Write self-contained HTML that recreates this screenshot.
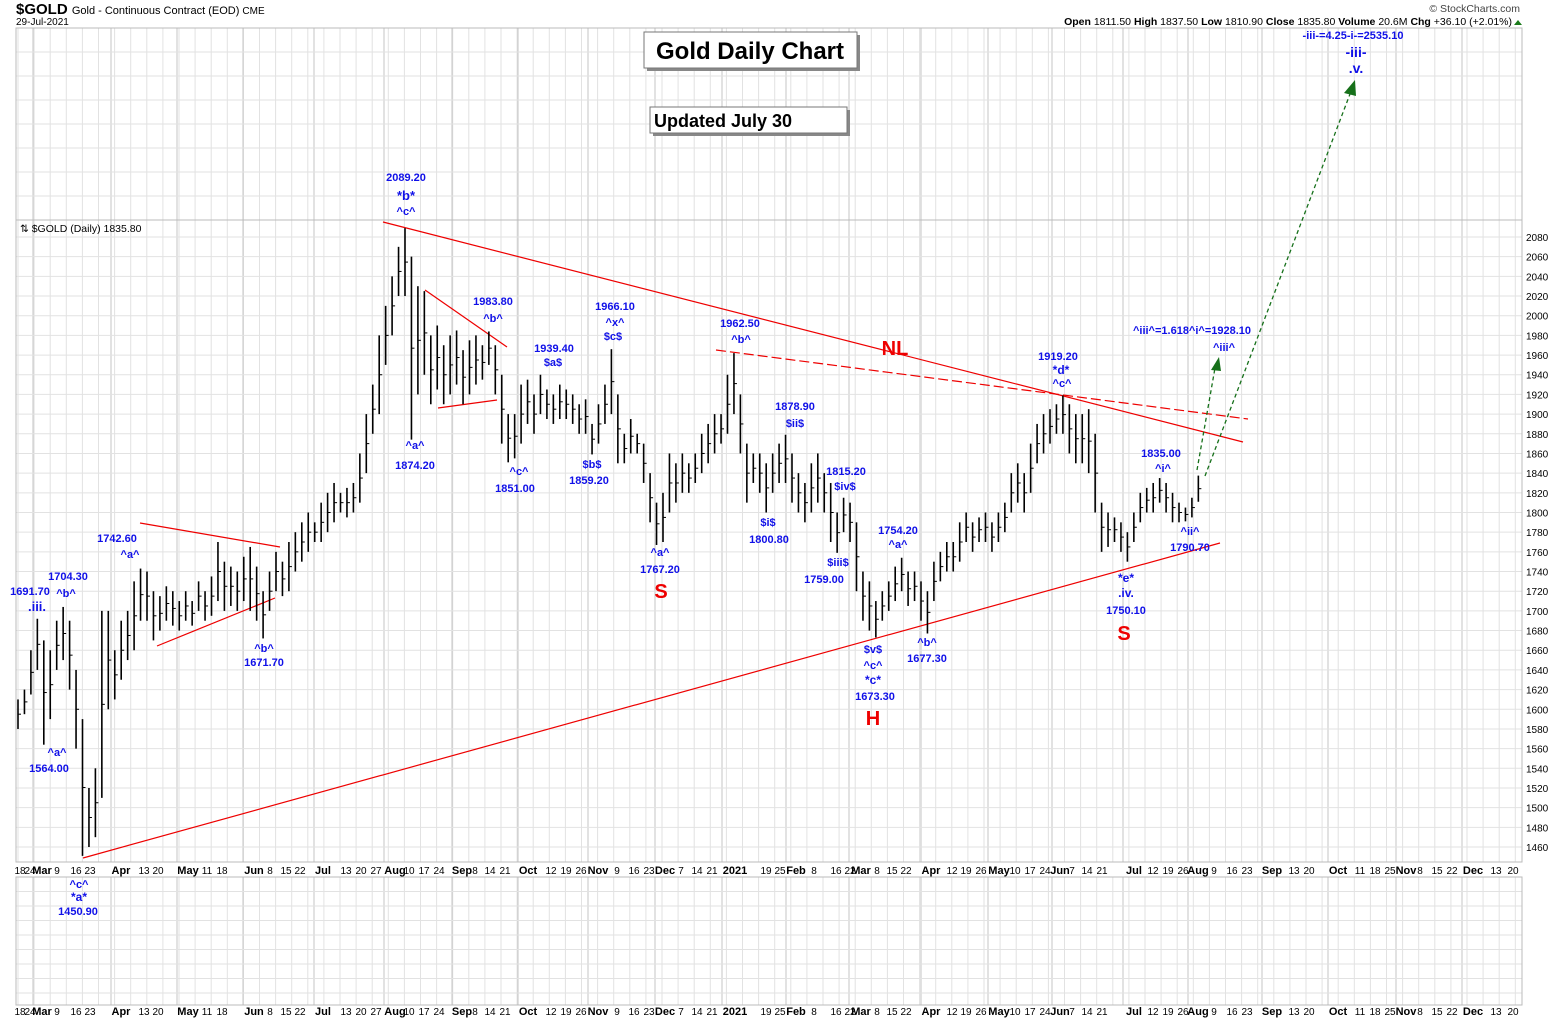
<!DOCTYPE html>
<html><head><meta charset="utf-8"><style>
body{margin:0;background:#fff;}
svg{display:block;font-family:"Liberation Sans",sans-serif;}
</style></head><body>
<svg id="c" width="1565" height="1021" viewBox="0 0 1565 1021">
<g id="grid"></g>
<g id="lines"></g>
<g id="bars"></g>
<g id="axes"></g>
<g id="ann"></g>
<text x="16" y="14" font-size="15" font-weight="bold">$GOLD <tspan font-size="11" font-weight="normal">Gold - Continuous Contract (EOD) <tspan font-size="10">CME</tspan></tspan></text>
<text x="16" y="25" font-size="10">29-Jul-2021</text>
<text x="1520" y="12" font-size="10.5" text-anchor="end" fill="#444">© StockCharts.com</text>
<text x="1512" y="25" font-size="10.5" text-anchor="end"><tspan font-weight="bold">Open</tspan> 1811.50 <tspan font-weight="bold">High</tspan> 1837.50 <tspan font-weight="bold">Low</tspan> 1810.90 <tspan font-weight="bold">Close</tspan> 1835.80 <tspan font-weight="bold">Volume</tspan> 20.6M <tspan font-weight="bold">Chg</tspan> +36.10 (+2.01%)</text>
<path d="M1514,25 L1518,20 L1522,25Z" fill="#1a7a1a"/>
<text x="20" y="232" font-size="10.5">⇅ $GOLD (Daily) 1835.80</text>
<g><rect x="647" y="35" width="213" height="36" fill="#888"/><rect x="644" y="32" width="213" height="36" fill="#fff" stroke="#777"/><text x="750" y="59" font-size="24" font-weight="bold" text-anchor="middle">Gold Daily Chart</text></g>
<g><rect x="653" y="110" width="197" height="26" fill="#888"/><rect x="650" y="107" width="197" height="26" fill="#fff" stroke="#777"/><text x="654" y="127" font-size="18" font-weight="bold">Updated July 30</text></g>
</svg>
<script>
// ---- data: 2-trading-day bars, Feb 18 2020 .. Jul 29 2021 ----
const highs=[1610,1620,1660,1692,1670,1660,1690,1704,1690,1640,
1590,1520,1540,1700,1700,1660,1690,1700,1730,1743,
1740,1720,1715,1725,1720,1710,1720,1710,1730,1720,
1735,1770,1750,1745,1740,1755,1765,1745,1720,1740,
1760,1750,1770,1780,1790,1800,1790,1810,1820,1830,
1820,1825,1830,1860,1900,1930,1980,2010,2040,2070,
2089,2060,2030,2025,1980,1990,1970,1980,1985,1965,
1975,1980,1970,1984,1970,1940,1900,1900,1930,1935,
1920,1940,1925,1920,1930,1925,1920,1910,1915,1890,
1910,1930,1966,1920,1880,1895,1880,1870,1840,1810,
1820,1860,1850,1860,1850,1860,1880,1890,1900,1900,
1940,1962,1920,1870,1860,1860,1850,1860,1870,1879,
1860,1840,1830,1850,1860,1840,1830,1800,1815,1810,
1790,1740,1730,1710,1720,1730,1745,1754,1740,1740,
1730,1720,1750,1760,1770,1770,1790,1800,1790,1795,
1800,1790,1800,1810,1840,1850,1840,1870,1890,1900,
1905,1910,1919,1910,1900,1900,1905,1880,1810,1800,
1795,1790,1780,1800,1820,1825,1830,1835,1830,1820,
1810,1805,1815,1837.5];
const lows=[1580,1595,1615,1640,1564,1590,1640,1650,1620,1560,
1451,1460,1470,1510,1600,1610,1630,1650,1660,1690,
1690,1670,1680,1690,1685,1680,1690,1685,1700,1690,
1695,1710,1700,1705,1700,1710,1700,1690,1672,1700,
1720,1715,1720,1740,1750,1760,1770,1770,1780,1790,
1800,1795,1800,1810,1840,1880,1900,1950,1980,2020,
2020,1874,1920,1940,1910,1925,1910,1920,1930,1910,
1920,1930,1935,1950,1920,1870,1851,1855,1870,1890,
1880,1900,1895,1890,1895,1895,1890,1880,1880,1859,
1870,1890,1900,1850,1850,1860,1860,1830,1790,1767,
1770,1800,1810,1820,1820,1830,1840,1850,1860,1870,
1880,1900,1860,1810,1830,1820,1800,1820,1830,1830,
1810,1800,1790,1800,1810,1800,1770,1759,1780,1770,
1720,1690,1680,1673,1690,1700,1710,1720,1705,1710,
1690,1677,1710,1730,1740,1740,1750,1770,1760,1770,
1770,1760,1770,1780,1800,1810,1800,1820,1850,1860,
1870,1880,1880,1860,1850,1850,1840,1800,1760,1765,
1770,1760,1750,1770,1790,1800,1800,1810,1800,1790,
1790,1791,1795,1810.9];
const priceTicks=[2080,2060,2040,2020,2000,1980,1960,1940,1920,1900,1880,1860,1840,1820,1800,1780,1760,1740,1720,1700,1680,1660,1640,1620,1600,1580,1560,1540,1520,1500,1480,1460];
const dateLabels=["18","24","Mar","9","16","23","Apr","13","20","May","11","18","Jun","8","15","22","Jul","13","20","27","Aug","10","17","24","Sep","8","14","21","Oct","12","19","26","Nov","9","16","23","Dec","7","14","21","2021","19","25","Feb","8","16","22","Mar","8","15","22","Apr","12","19","26","May","10","17","24","Jun","7","14","21","Jul","12","19","26","Aug","9","16","23","Sep","13","20","Oct","11","18","25","Nov","8","15","22","Dec","13","20"];
const dateX=[20,30,42,57,76,90,121,144,158,188,207,222,254,270,286,300,323,346,361,376,395,409,424,439,462,475,490,505,528,551,566,581,598,617,634,649,665,681,697,712,735,766,780,796,814,836,850,861,877,892,906,931,952,966,981,999,1015,1030,1045,1060,1072,1087,1102,1134,1153,1168,1183,1198,1214,1232,1247,1272,1294,1309,1338,1360,1375,1390,1406,1420,1437,1452,1473,1496,1513];

const NS="http://www.w3.org/2000/svg";
const L=16,R=1522,PT=220,PB=862;
function yOf(p){return 237+(2080-p)*0.9839;}
function xOf(i){return 18+i*6.45;}
function mk(tag,attrs,parent){const e=document.createElementNS(NS,tag);for(const k in attrs)e.setAttribute(k,attrs[k]);parent.appendChild(e);return e;}
const grid=document.getElementById('grid'),bars=document.getElementById('bars'),axes=document.getElementById('axes'),lines=document.getElementById('lines'),ann=document.getElementById('ann');

// grid
for(let x=18;x<R;x+=16.1){mk('line',{x1:x,y1:28,x2:x,y2:PB,stroke:'#e2e2e2'},grid);mk('line',{x1:x,y1:877,x2:x,y2:1005,stroke:'#e2e2e2'},grid);}
[33,111,177,243,314,384,452,518,588,655,722,786,849,921,988,1052,1123,1188,1262,1328,1396,1462].forEach(x=>{mk('line',{x1:x,y1:28,x2:x,y2:PB,stroke:'#c4c4c4'},grid);mk('line',{x1:x,y1:877,x2:x,y2:1005,stroke:'#c4c4c4'},grid);});
for(let y=28;y<PT;y+=24){mk('line',{x1:L,y1:y,x2:R,y2:y,stroke:'#e2e2e2'},grid);}
priceTicks.forEach(p=>{mk('line',{x1:L,y1:yOf(p),x2:R,y2:yOf(p),stroke:'#e2e2e2'},grid);});
for(let y=877;y<1005;y+=14.5){mk('line',{x1:L,y1:y,x2:R,y2:y,stroke:'#e2e2e2'},grid);}
[[L,28,R-L,PB-28],[L,877,R-L,1005-877]].forEach(r=>mk('rect',{x:r[0],y:r[1],width:r[2],height:r[3],fill:'none',stroke:'#bbb'},grid));
mk('line',{x1:L,y1:PT,x2:R,y2:PT,stroke:'#bbb'},grid);

// bars
highs.forEach((h,i)=>{
 const b=mk('line',{x1:xOf(i),y1:yOf(h),x2:xOf(i),y2:yOf(lows[i]),stroke:'#000','stroke-width':1.6},bars);
 
 
 const m=(h+lows[i])/2;
 mk('line',{x1:xOf(i),y1:yOf(m),x2:xOf(i)+3,y2:yOf(m),stroke:'#000'},bars);
});

// axes
priceTicks.forEach(p=>{const t=mk('text',{x:1526,y:yOf(p)+4,'font-size':10},axes);t.textContent=p;
 
 });
dateLabels.forEach((d,i)=>{const bold=isNaN(+d)||d==='2021';
 [874,1015].forEach(y=>{const t=mk('text',{x:dateX[i],y:y,'font-size':bold?11:10,'font-weight':bold?'bold':'normal','text-anchor':'middle'},axes);t.textContent=d;
 
 });});

// trendlines
const red={stroke:'#e00','stroke-width':1.2};
[[383,222,1243,442],[83,858,1220,543],[140,523,280,547],[157,646,275,598],[425,290,507,347],[438,408,497,400]].forEach(s=>mk('line',Object.assign({x1:s[0],y1:s[1],x2:s[2],y2:s[3]},red),lines));
mk('line',{x1:716,y1:350,x2:1248,y2:419,stroke:'#e00','stroke-width':1.2,'stroke-dasharray':'10,4'},lines);
mk('line',{x1:1197,y1:470,x2:1215,y2:368,stroke:'#16701a','stroke-width':1.3,'stroke-dasharray':'4,3'},lines);
mk('path',{d:'M1211,370 L1219,357 L1221,371Z',fill:'#16701a'},lines);
mk('line',{x1:1205,y1:476,x2:1350,y2:94,stroke:'#16701a','stroke-width':1.3,'stroke-dasharray':'4,3'},lines);
mk('path',{d:'M1344,93 L1355,80 L1356,96Z',fill:'#16701a'},lines);

// annotations
const A=[[406,181,"2089.20",11],[406,200,"*b*",13],[406,215,"^c^",11],
[30,595,"1691.70",11],[37,611,".iii.",13],[68,580,"1704.30",11],[66,597,"^b^",11],[117,542,"1742.60",11],[130,558,"^a^",11],
[57,756,"^a^",11],[49,772,"1564.00",11],[264,652,"^b^",11],[264,666,"1671.70",11],[79,888,"^c^",11],[79,901,"*a*",12],[78,915,"1450.90",11],
[415,449,"^a^",11],[415,469,"1874.20",11],[493,305,"1983.80",11],[493,322,"^b^",11],[554,352,"1939.40",11],[553,366,"$a$",11],
[615,310,"1966.10",11],[615,326,"^x^",11],[613,340,"$c$",11],[519,475,"^c^",11],[515,492,"1851.00",11],[592,468,"$b$",11],[589,484,"1859.20",11],
[740,327,"1962.50",11],[741,343,"^b^",11],[660,556,"^a^",11],[660,573,"1767.20",11],[795,410,"1878.90",11],[795,427,"$ii$",11],
[768,526,"$i$",11],[769,543,"1800.80",11],[846,475,"1815.20",11],[845,490,"$iv$",11],[838,566,"$iii$",11],[824,583,"1759.00",11],
[898,534,"1754.20",11],[898,548,"^a^",11],[873,653,"$v$",11],[873,669,"^c^",11],[873,684,"*c*",12],[875,700,"1673.30",11],
[927,646,"^b^",11],[927,662,"1677.30",11],[1058,360,"1919.20",11],[1061,374,"*d*",12],[1062,387,"^c^",11],
[1161,457,"1835.00",11],[1163,472,"^i^",11],[1190,535,"^ii^",11],[1190,551,"1790.70",11],[1126,582,"*e*",12],[1126,597,".iv.",12],[1126,614,"1750.10",11],
[1192,334,"^iii^=1.618^i^=1928.10",11],[1224,351,"^iii^",11],[1353,39,"-iii-=4.25-i-=2535.10",11],[1356,57,"-iii-",14],[1356,73,".v.",14]];
A.forEach(a=>{const t=mk('text',{x:a[0],y:a[1],'font-size':a[3],'font-weight':'bold',fill:'#1010e8','text-anchor':'middle'},ann);t.textContent=a[2];
 
 });
[[661,598,"S"],[873,725,"H"],[1124,640,"S"],[895,355,"NL"]].forEach(a=>{const t=mk('text',{x:a[0],y:a[1],'font-size':20,'font-weight':'bold',fill:'#e00','text-anchor':'middle'},ann);t.textContent=a[2];
 
 });
</script>
</body></html>
